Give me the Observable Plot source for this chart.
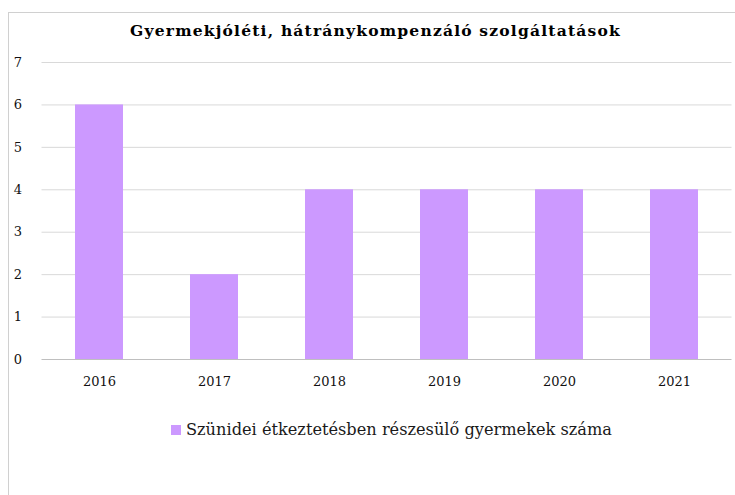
<!DOCTYPE html>
<html>
<head>
<meta charset="utf-8">
<script src="https://cdn.jsdelivr.net/npm/d3@7"></script>
<script src="https://cdn.jsdelivr.net/npm/@observablehq/plot@0.6"></script>
<style>
  html, body { margin: 0; padding: 0; background: #fff; }
  #frame { position: absolute; left: 8px; top: 12px; width: 727px; height: 483px;
           border-left: 1px solid #d0d0d0; border-top: 1px solid #d0d0d0; }
  #title { position: absolute; left: 8px; top: 21px; width: 735px; text-align: center;
           font-family: "DejaVu Serif", serif; font-weight: bold; font-size: 15.5px; letter-spacing: 1.2px; color: #000; }
  #chart { position: absolute; left: 0; top: 40px; }
  #legend { position: absolute; left: 48px; top: 420px; width: 687px; text-align: center;
            font-family: "DejaVu Serif", serif; font-size: 16.2px; color: #1a1a1a; }
  #legend span.sw { display: inline-block; width: 10px; height: 10px; background: #cc99ff; margin-right: 5px; vertical-align: 0px; }
</style>
</head>
<body>
<div id="frame"></div>
<div id="title">Gyermekjóléti, hátránykompenzáló szolgáltatások</div>
<div id="chart"></div>
<div id="legend"><span class="sw"></span>Szünidei étkeztetésben részesülő gyermekek száma</div>
<script>
const years = ["2016", "2017", "2018", "2019", "2020", "2021"];
const values = [6, 2, 4, 4, 4, 4];
const yTicks = [0, 1, 2, 3, 4, 5, 6, 7];

const data = years.map((y, i) => ({year: y, value: values[i]}));

const chart = Plot.plot({
  width: 735,
  height: 360,
  marginLeft: 41.5,
  marginRight: 3.5,
  marginTop: 22,
  marginBottom: 41,
  style: {fontFamily: "DejaVu Serif, serif", fontSize: "13px", color: "#111", background: "transparent"},
  x: {domain: years, paddingInner: 0.58, paddingOuter: 0.29, label: null, tickSize: 0, tickPadding: 17},
  y: {domain: [0, 7], ticks: yTicks, tickFormat: "d", label: null, tickSize: 0, tickPadding: 20},
  marks: [
    Plot.gridY(yTicks.filter(d => d > 0), {stroke: "#d9d9d9", strokeWidth: 1, strokeOpacity: 1}),
    Plot.barY(data, {x: "year", y: "value", fill: "#cc99ff"}),
    Plot.ruleY([0], {stroke: "#bfbfbf", strokeWidth: 1.2})
  ]
});
document.getElementById("chart").appendChild(chart);
</script>
</body>
</html>
